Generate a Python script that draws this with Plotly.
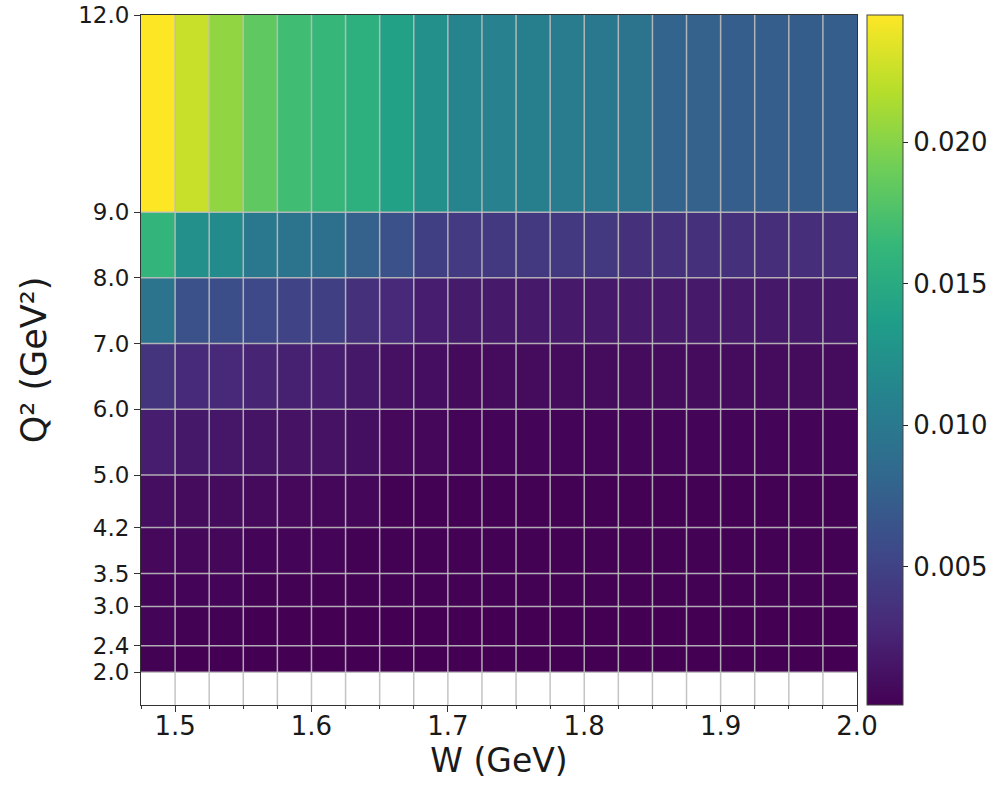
import plotly.graph_objects as go

# Bin edges
w_edges = [1.475, 1.5, 1.525, 1.55, 1.575, 1.6, 1.625, 1.65, 1.675, 1.7, 1.725,
           1.75, 1.775, 1.8, 1.825, 1.85, 1.875, 1.9, 1.925, 1.95, 1.975, 2.0]
q2_edges = [2.0, 2.4, 3.0, 3.5, 4.2, 5.0, 6.0, 7.0, 8.0, 9.0, 12.0]
q2_ticktext = ["2.0", "2.4", "3.0", "3.5", "4.2", "5.0", "6.0", "7.0", "8.0", "9.0", "12.0"]
w_tickvals = [1.5, 1.6, 1.7, 1.8, 1.9, 2.0]
w_ticktext = ["1.5", "1.6", "1.7", "1.8", "1.9", "2.0"]

# Values per Q2 bin (rows, bottom to top), 21 W bins each
row_2p0_2p4 = [0.0002] + [0.0001] * 20
row_2p4_3p0 = [0.0003, 0.0002, 0.0002] + [0.0001] * 18
row_3p0_3p5 = [0.0004, 0.0003, 0.0003, 0.0002] + [0.00015] * 17
row_3p5_4p2 = [0.0006, 0.0005, 0.0005, 0.0004, 0.0003, 0.0003, 0.0002] + [0.00015] * 14
row_4p2_5p0 = [0.0010, 0.0008, 0.0008, 0.0007, 0.0006, 0.0005, 0.0005] + [0.0002] * 14
row_5p0_6p0 = [0.0021, 0.0017, 0.0016, 0.0014, 0.0013, 0.0013, 0.0011, 0.0006, 0.0005] + [0.0004] * 12
row_6p0_7p0 = [0.0038, 0.0030, 0.0028, 0.0025, 0.0023, 0.0021, 0.0017, 0.0012, 0.0010, 0.0007] + [0.0008] * 11
row_7p0_8p0 = [0.0094, 0.0062, 0.0060, 0.0055, 0.0050, 0.0047, 0.0035, 0.0028, 0.0021, 0.0019,
               0.0018, 0.0018, 0.0018, 0.0018, 0.0018, 0.0018, 0.0018, 0.0018, 0.0017, 0.0017, 0.0017]
row_8p0_9p0 = [0.0160, 0.0123, 0.0118, 0.0099, 0.0094, 0.0091, 0.0077, 0.0062, 0.0047, 0.0043,
               0.0042, 0.0042, 0.0042, 0.0042, 0.0035, 0.0035, 0.0035, 0.0035, 0.0033, 0.0033, 0.0033]
row_9p0_12p0 = [0.0245, 0.0225, 0.0204, 0.0184, 0.0169, 0.0164, 0.0155, 0.0140, 0.0123, 0.0111,
                0.0108, 0.0106, 0.0103, 0.0099, 0.0094, 0.0079, 0.0077, 0.0074, 0.0074, 0.0073, 0.0074]

z = [row_2p0_2p4, row_2p4_3p0, row_3p0_3p5, row_3p5_4p2, row_4p2_5p0,
     row_5p0_6p0, row_6p0_7p0, row_7p0_8p0, row_8p0_9p0, row_9p0_12p0]

cb_ticks = [0.005, 0.010, 0.015, 0.020]

FONT = "DejaVu Sans"
TXT = "#1a1a1a"
fig = go.Figure()
fig.add_trace(go.Heatmap(
    x=w_edges, y=q2_edges, z=z,
    colorscale="Viridis", zmin=0.0001, zmax=0.0245,
    colorbar=dict(
        x=1.014, xanchor="left", xref="paper", thickness=36, len=1.0, lenmode="fraction",
        y=0.5, yanchor="middle", xpad=0, ypad=0,
        outlinecolor="#444", outlinewidth=1,
        tickvals=cb_ticks, tickformat=".3f", ticks="outside", ticklen=5,
        tickcolor="#222", tickfont=dict(family=FONT, size=26, color=TXT),
    ),
    hoverongaps=False,
))

grid_color = "rgba(190,190,190,0.9)"
for xe in w_edges[1:-1]:
    fig.add_shape(type="line", xref="x", yref="y", x0=xe, x1=xe, y0=1.5, y1=12.0,
                  line=dict(color=grid_color, width=1.5), layer="above")
for ye in q2_edges[:-1]:
    fig.add_shape(type="line", xref="x", yref="y", x0=1.475, x1=2.0, y0=ye, y1=ye,
                  line=dict(color=grid_color, width=1.5), layer="above")

fig.update_layout(
    width=999, height=786,
    margin=dict(l=141, r=142, t=15, b=81, autoexpand=False),
    paper_bgcolor="white", plot_bgcolor="white",
    font=dict(family=FONT, color=TXT),
)
fig.update_xaxes(
    range=[1.475, 2.0], tickvals=w_tickvals, ticktext=w_ticktext, automargin=False,
    ticks="outside", ticklen=6, tickcolor="#333", showgrid=False, zeroline=False,
    showline=True, linecolor="#333", linewidth=1, mirror=True,
    tickfont=dict(family=FONT, size=26, color=TXT), ticklabelstandoff=-8,
    title=dict(text="W (GeV)", font=dict(family=FONT, size=33, color=TXT), standoff=6),
    minor=dict(tick0=1.475, dtick=0.025, ticks="outside", ticklen=3, tickcolor="#333", showgrid=False),
)
fig.update_yaxes(
    range=[1.5, 12.0], tickvals=q2_edges, ticktext=q2_ticktext, automargin=False,
    ticks="outside", ticklen=6, tickcolor="#333", showgrid=False, zeroline=False,
    showline=True, linecolor="#333", linewidth=1, mirror=True,
    tickfont=dict(family=FONT, size=23, color=TXT), ticklabeloverflow="allow",
    title=dict(text="Q² (GeV²)", font=dict(family=FONT, size=35, color=TXT), standoff=20),
)

fig.write_html("out.html", config={"displayModeBar": False},
               post_script="document.body.style.margin='0px';")
